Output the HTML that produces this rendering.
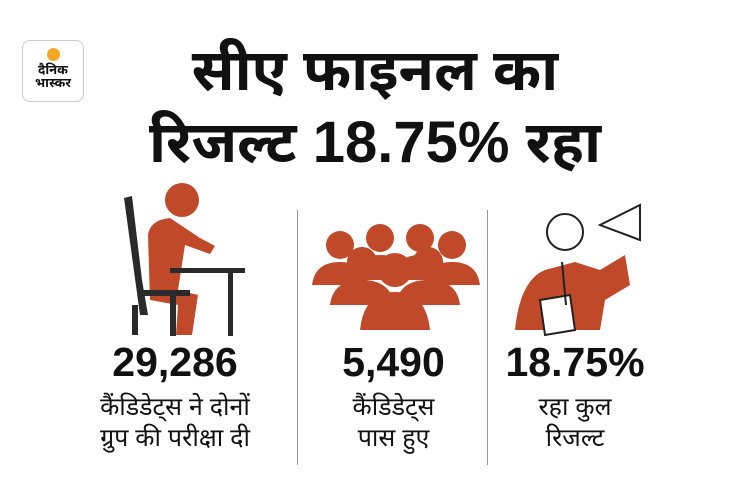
<!DOCTYPE html>
<html><head><meta charset="utf-8"><style>
body{margin:0;width:730px;height:503px;background:#fff;position:relative;overflow:hidden;font-family:"Liberation Sans","Noto Sans Devanagari","Lohit Devanagari",sans-serif;color:#111}
.t{position:absolute;left:0;width:730px;text-align:center;font-weight:bold;font-size:58px;line-height:62px}
.logo{position:absolute;left:22px;top:40px;width:60px;height:60px;border:1px solid #ccc;border-radius:8px;text-align:center;font-size:13px;font-weight:bold;line-height:13px}
.logo i{display:block;width:13px;height:13px;border-radius:50%;background:#f5a623;margin:7px auto 2px}
.col{position:absolute;top:340px;text-align:center}
.n{font-size:41px;font-weight:bold;line-height:44px}
.s{font-size:25px;line-height:31px;margin-top:8px}
.div{position:absolute;top:210px;width:1px;height:255px;background:#999}
</style></head><body>
<div class="logo"><i></i>दैनिक<br>भास्कर</div>
<div class="t" style="top:40px;left:10px">सीए फाइनल का</div>
<div class="t" style="top:112px;left:10px">रिजल्ट 18.75% रहा</div>
<div class="div" style="left:297px"></div>
<div class="div" style="left:487px"></div>
<svg style="position:absolute;left:0;top:0" width="730" height="503">
<g fill="#c0492a">
<circle cx="182" cy="200" r="17"/>
<path d="M148 235 Q150 220 170 218 L200 238 L215 246 L210 254 L185 245 L178 290 L198 295 L192 335 L176 335 L178 305 L150 300 Z"/>
<circle cx="340" cy="245" r="14"/><circle cx="380" cy="238" r="14"/><circle cx="420" cy="238" r="14"/><circle cx="452" cy="245" r="14"/>
<path d="M312 285 Q315 262 340 262 Q365 262 368 285 Z M352 280 Q355 255 380 255 Q405 255 408 280Z M392 280 Q395 255 420 255 Q445 255 448 280Z M424 285 Q427 262 452 262 Q477 262 480 285Z"/>
<circle cx="362" cy="262" r="15"/><circle cx="428" cy="262" r="15"/>
<path d="M330 305 Q333 280 362 280 Q391 280 394 305Z M396 305 Q399 280 428 280 Q457 280 460 305Z"/>
<circle cx="395" cy="270" r="17"/>
<path d="M360 330 Q364 292 395 292 Q426 292 430 330Z"/>
<path d="M515 330 Q520 280 545 270 L575 262 L600 270 L625 255 L630 285 L605 300 L600 330 Z"/>
</g>
<g fill="#2a2a2a">
<path d="M124 198 L132 196 L142 280 L148 315 L140 315 Z"/>
<rect x="140" y="290" width="50" height="6"/><rect x="132" y="305" width="6" height="30"/><rect x="170" y="296" width="6" height="40"/>
<rect x="170" y="268" width="75" height="5"/><rect x="228" y="273" width="5" height="63"/>
</g>
<g fill="none" stroke="#222" stroke-width="2">
<circle cx="565" cy="232" r="18" fill="#fff"/>
<path d="M600 225 L640 205 L640 240 Z" fill="#fff"/>
<path d="M540 300 L570 295 L575 330 L545 335 Z" fill="#fff"/>
<path d="M562 262 L566 305"/>
</g>
</svg>
<div class="col" style="left:70px;width:210px"><div class="n">29,286</div><div class="s">कैंडिडेट्स ने दोनों<br>ग्रुप की परीक्षा दी</div></div>
<div class="col" style="left:300px;width:187px"><div class="n">5,490</div><div class="s">कैंडिडेट्स<br>पास हुए</div></div>
<div class="col" style="left:490px;width:170px"><div class="n">18.75%</div><div class="s">रहा कुल<br>रिजल्ट</div></div>
</body></html>
